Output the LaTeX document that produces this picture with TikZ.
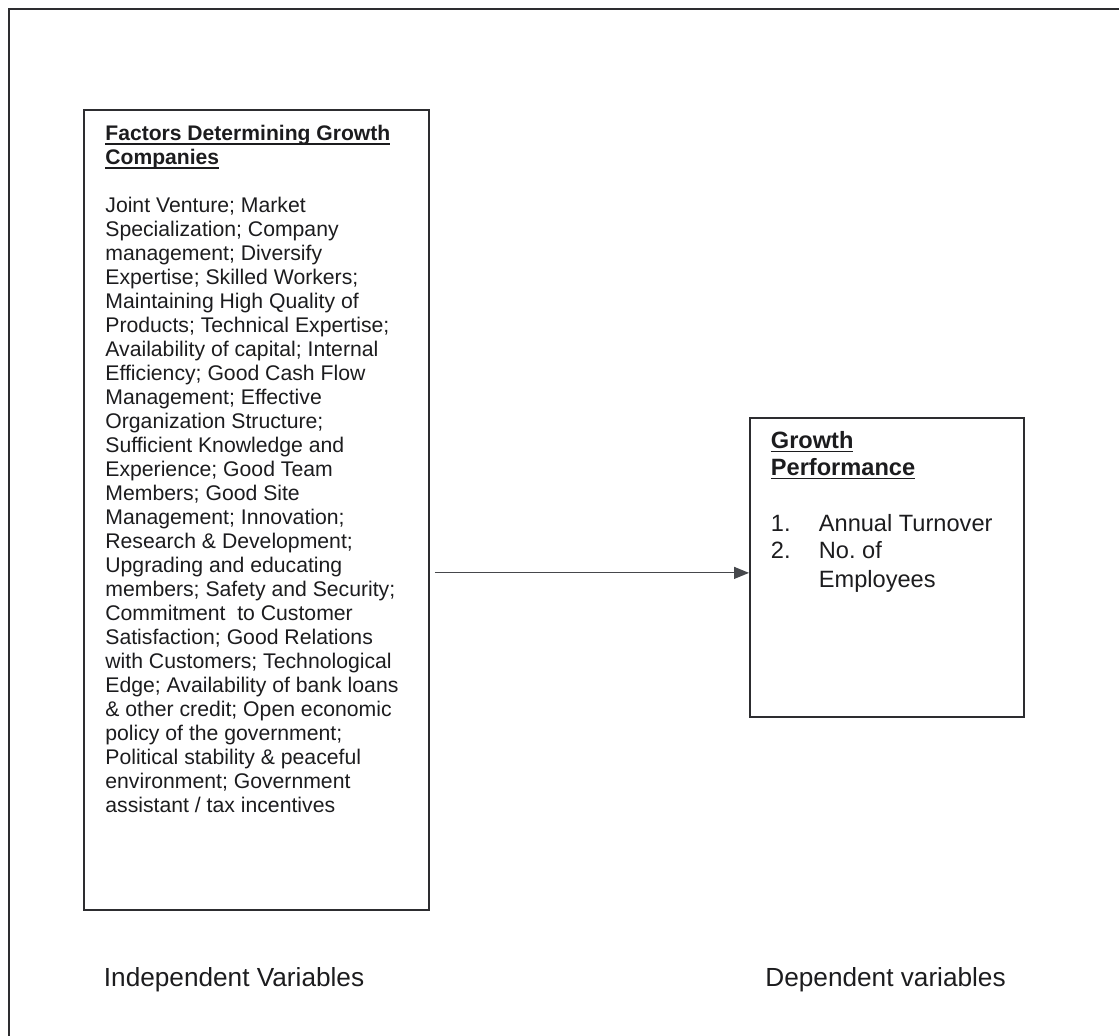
\documentclass[tikz,border=0pt]{standalone}
\usepackage{fontspec}
\setmainfont{Liberation Sans}
\usetikzlibrary{arrows.meta,positioning}
\definecolor{framecol}{RGB}{45,45,48}
\definecolor{inkcol}{RGB}{28,28,30}
\definecolor{tipcol}{RGB}{70,72,76}
\newcommand{\ulhead}[1]{\setbox0\hbox{\bfseries #1}\rlap{\rule[-2pt]{\wd0}{0.9pt}}\box0}
\tikzset{
  varbox/.style={draw=framecol,line width=.9pt,inner sep=0pt,anchor=north west},
  boxtext/.style={anchor=north west,inner sep=0pt,align=left,text=inkcol},
  vartag/.style={anchor=base west,inner sep=0pt,text=inkcol,
                 font=\fontsize{13.1}{15}\selectfont},
  link/.style={-{Triangle[length=7.5pt,width=6pt]},draw=tipcol,line width=.6pt},
}

\begin{document}
\begin{tikzpicture}[x=0.5pt,y=-0.5pt]
  \useasboundingbox (0,0) rectangle (1119,1036);
  \draw[framecol,line width=1pt] (9,1045) -- (9,9.5) -- (1130,9.5);
  % boxes
  \node[varbox,minimum width=172.5pt,minimum height=400pt] (factors) at (83,109) {};
  \node[varbox,minimum width=137pt,minimum height=149.5pt] (growth) at (749,417) {};
  % box texts
  \node[boxtext,font=\fontsize{10.6}{12}\selectfont] (factorstxt) at (105,125)
   {{\fontsize{10.55}{12}\selectfont\ulhead{Factors Determining Growth}}\\
    {\fontsize{10.55}{12}\selectfont\ulhead{Companies}}\\[12pt]
    Joint Venture; Market\\
    Specialization; Company\\
    management; Diversify\\
    Expertise; Skilled Workers;\\
    Maintaining High Quality of\\
    Products; Technical Expertise;\\
    Availability of capital; Internal\\
    Efficiency; Good Cash Flow\\
    Management; Effective\\
    Organization Structure;\\
    Sufficient Knowledge and\\
    Experience; Good Team\\
    Members; Good Site\\
    Management; Innovation;\\
    Research \& Development;\\
    Upgrading and educating\\
    members; Safety and Security;\\
    Commitment\ \ to Customer\\
    Satisfaction; Good Relations\\
    with Customers; Technological\\
    Edge; Availability of bank loans\\
    \& other credit; Open economic\\
    policy of the government;\\
    Political stability \& peaceful\\
    environment; Government\\
    assistant / tax incentives};
  \node[boxtext,font=\fontsize{11.8}{13.5}\selectfont] (growthtxt) at (770.5,431)
   {\ulhead{Growth}\\
    \ulhead{Performance}\\[14.5pt]
    \makebox[24pt][l]{1.}Annual Turnover\\
    \makebox[24pt][l]{2.}No.\ of\\[1pt]
    \hspace*{24pt}Employees};
  % arrow
  \coordinate (linkstart) at ([xshift=2.5pt,yshift=-2.75pt]factors.east |- growth.west);
  \draw[link] (linkstart) -- (linkstart -| growth.west);
  % captions
  \node[vartag] (indep) at (103.5,986) {Independent Variables};
  \node[vartag] (dep) at (765,986) {Dependent variables};
\end{tikzpicture}
\end{document}
